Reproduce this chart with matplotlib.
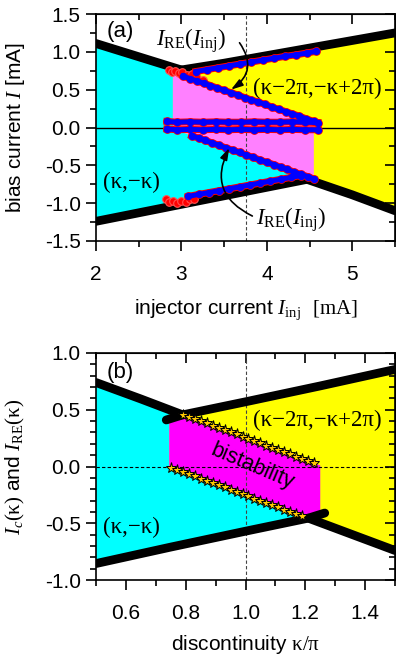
import numpy as np
import matplotlib
matplotlib.use('Agg')
import matplotlib.pyplot as plt
from matplotlib.ticker import MultipleLocator, FormatStrFormatter

plt.rcParams['font.family'] = ['Liberation Sans', 'DejaVu Sans']
plt.rcParams['mathtext.fontset'] = 'custom'
plt.rcParams['mathtext.rm'] = 'Liberation Serif'
plt.rcParams['mathtext.it'] = 'Liberation Serif:italic'
plt.rcParams['axes.unicode_minus'] = False
SERIF = 'Liberation Serif'
FS = 15      # ticks and axis labels
FT = 16.5    # annotations

# ---------------- panel (a): I vs I_inj [mA] ----------------
# critical current bands
a_ul_x = [2.0, 2.5, 3.0]
a_ul_y = [1.11, 0.935, 0.76]
a_ur_x = [2.97, 3.5, 4.0, 4.5, 5.0, 5.5]
a_ur_y = [0.755, 0.85, 0.95, 1.05, 1.15, 1.25]
a_ll_x = [2.0, 3.0, 4.0, 4.47]
a_ll_y = [-1.24, -1.015, -0.79, -0.685]
a_lr_x = [4.47, 5.0, 5.5]
a_lr_y = [-0.685, -0.89, -1.10]

# return current branches (edges of bistable region)
a_top_x = [2.90, 2.94, 3.02, 3.10, 3.18, 3.26, 3.34, 3.42, 3.50, 3.58, 3.66,
           3.74, 3.82, 3.90, 3.98, 4.06, 4.14, 4.22, 4.30, 4.38, 4.46, 4.55]
a_top_y = [0.725, 0.71, 0.68, 0.645, 0.615, 0.585, 0.555, 0.52, 0.49, 0.46, 0.43,
           0.395, 0.365, 0.335, 0.305, 0.27, 0.24, 0.21, 0.18, 0.15, 0.115, 0.08]
a_bot_x = [2.90, 2.96, 3.04, 3.12, 3.20, 3.28, 3.36, 3.44, 3.52, 3.60, 3.68,
           3.76, 3.84, 3.92, 4.00, 4.08, 4.16, 4.24, 4.32, 4.40, 4.48, 4.55]
a_bot_y = [-0.02, -0.045, -0.075, -0.11, -0.14, -0.17, -0.205, -0.235, -0.27, -0.30, -0.33,
           -0.365, -0.395, -0.43, -0.46, -0.49, -0.525, -0.555, -0.59, -0.62, -0.65, -0.68]
# zero-voltage rows near I = 0
a_row_x = [2.83, 2.95, 3.10, 3.25, 3.40, 3.55, 3.70, 3.85, 4.00, 4.15, 4.30, 4.45, 4.60]
a_row_hi = [0.08, 0.07, 0.075, 0.07, 0.075, 0.07, 0.07, 0.075, 0.07, 0.07, 0.075, 0.07, 0.065]
a_row_lo = [-0.02, -0.03, -0.025, -0.03, -0.025, -0.03, -0.025, -0.03, -0.025, -0.03, -0.025, -0.03, -0.03]
# measured points along critical current edges
a_up_x = [3.17, 3.30, 3.43, 3.56, 3.69, 3.82, 3.95, 4.08, 4.21, 4.34, 4.47, 4.57]
a_up_y = [0.74, 0.765, 0.79, 0.815, 0.84, 0.865, 0.89, 0.915, 0.94, 0.96, 0.985, 1.005]
a_dn_x = [3.08, 3.20, 3.32, 3.44, 3.56, 3.68, 3.80, 3.92, 4.04, 4.16, 4.28, 4.40]
a_dn_y = [-0.91, -0.885, -0.86, -0.835, -0.81, -0.785, -0.76, -0.735, -0.71, -0.685, -0.66, -0.635]
# red clusters where switching starts
a_red1_x = [2.86, 2.89, 2.93, 2.97, 3.01, 3.06, 3.12, 3.18, 3.25]
a_red1_y = [0.76, 0.73, 0.75, 0.72, 0.74, 0.70, 0.71, 0.66, 0.63]
a_red2_x = [2.82, 2.86, 2.90, 2.95, 3.00, 3.05, 3.10, 3.15]
a_red2_y = [-0.95, -0.99, -0.97, -1.00, -0.97, -0.98, -0.95, -0.94]
a_sw_lo, a_sw_hi = 2.90, 4.55
a_vline = 3.75

# ---------------- panel (b): I_c(kappa), I_RE(kappa) ----------------
b_ul_x = [0.5, 0.65, 0.79]
b_ul_y = [0.74, 0.595, 0.455]
b_ur_x = [0.735, 0.79, 1.0, 1.25, 1.5]
b_ur_y = [0.41, 0.455, 0.57, 0.71, 0.855]
b_ll_x = [0.5, 0.75, 1.0, 1.21, 1.265]
b_ll_y = [-0.855, -0.71, -0.57, -0.455, -0.41]
b_lr_x = [1.21, 1.5]
b_lr_y = [-0.455, -0.74]

b_st_top_x = [0.79, 0.81, 0.83, 0.85, 0.87, 0.89, 0.91, 0.93, 0.95, 0.97, 0.99, 1.01,
              1.03, 1.05, 1.07, 1.09, 1.11, 1.13, 1.15, 1.17, 1.19, 1.21, 1.23]
b_st_top_y = [0.456, 0.437, 0.417, 0.398, 0.379, 0.359, 0.340, 0.320, 0.301, 0.282, 0.262, 0.243,
              0.223, 0.204, 0.185, 0.165, 0.146, 0.126, 0.107, 0.088, 0.068, 0.049, 0.029]
b_st_bot_x = [0.75, 0.77, 0.79, 0.81, 0.83, 0.85, 0.87, 0.89, 0.91, 0.93, 0.95, 0.97,
              0.99, 1.01, 1.03, 1.05, 1.07, 1.09, 1.11, 1.13, 1.15, 1.17, 1.19]
b_st_bot_y = [-0.010, -0.029, -0.049, -0.068, -0.088, -0.107, -0.126, -0.146, -0.165, -0.185, -0.204, -0.223,
              -0.243, -0.262, -0.282, -0.301, -0.320, -0.340, -0.359, -0.379, -0.398, -0.417, -0.437]
# edges of the bistable region
b_re_top_x = [0.745, 0.79, 1.25]
b_re_top_y = [0.42, 0.456, 0.01]
b_re_bot_x = [0.745, 1.21]
b_re_bot_y = [-0.005, -0.447]
b_sw_lo, b_sw_hi = 0.745, 1.25

CYAN, YELLOW, PINK, MAGENTA = '#00FFFF', '#FFFF00', '#FF80FF', '#FF00FF'


def poly(*segs):
    xs = np.concatenate([np.asarray(s[0], float) for s in segs])
    ys = np.concatenate([np.asarray(s[1], float) for s in segs])
    return xs, ys


def band(ax, x, y):
    ax.plot(x, y, color='black', lw=6.3, solid_capstyle='round', zorder=3)


def style(ax, xmaj, xmin, ymaj, ymin, xfmt, yfmt):
    for s in ax.spines.values():
        s.set_linewidth(1.2)
    ax.xaxis.set_major_locator(MultipleLocator(xmaj))
    ax.xaxis.set_minor_locator(MultipleLocator(xmin))
    ax.yaxis.set_major_locator(MultipleLocator(ymaj))
    ax.yaxis.set_minor_locator(MultipleLocator(ymin))
    ax.xaxis.set_major_formatter(FormatStrFormatter(xfmt))
    ax.yaxis.set_major_formatter(FormatStrFormatter(yfmt))
    ax.tick_params(which='both', direction='out', width=1.2, labelsize=FS, top=False, right=False)
    ax.tick_params(which='major', length=7)
    ax.tick_params(which='minor', length=4.5)
    ax.tick_params(axis='x', which='both', pad=10)
    ax.tick_params(axis='y', which='both', pad=4)
    # mirror ticks pointing into the frame
    top = ax.secondary_xaxis('top')
    top.xaxis.set_major_locator(MultipleLocator(xmaj))
    top.xaxis.set_minor_locator(MultipleLocator(xmin))
    top.tick_params(which='both', direction='in', width=1.2, labeltop=False)
    top.tick_params(which='major', length=7)
    top.tick_params(which='minor', length=4.5)
    right = ax.secondary_yaxis('right')
    right.yaxis.set_major_locator(MultipleLocator(ymaj))
    right.yaxis.set_minor_locator(MultipleLocator(ymin))
    right.tick_params(which='both', direction='in', width=1.2, labelright=False)
    right.tick_params(which='major', length=7)
    right.tick_params(which='minor', length=4.5)


fig = plt.figure(figsize=(3.96, 6.6), dpi=100)
ax1 = fig.add_axes([96 / 396, 1 - 241 / 660, 299 / 396, 227 / 660])
ax2 = fig.add_axes([96 / 396, 1 - 580 / 660, 299 / 396, 227 / 660])

# ---- (a) ----
ax = ax1
ax.set_xlim(2, 5.5)
ax.set_ylim(-1.5, 1.5)
env = poly((a_ul_x, a_ul_y), (a_ur_x[1:], a_ur_y[1:]), (a_lr_x[::-1], a_lr_y[::-1]), (a_ll_x[-2::-1], a_ll_y[-2::-1]))
ax.fill(*env, color=YELLOW, lw=0, zorder=0)
ul_at = np.interp(a_sw_lo, a_ul_x, a_ul_y)
cy = poly(([a_ul_x[0], a_ul_x[1], a_sw_lo], [a_ul_y[0], a_ul_y[1], ul_at]), (a_bot_x, a_bot_y),
          (a_ll_x[::-1], a_ll_y[::-1]))
ax.fill(*cy, color=CYAN, lw=0, zorder=0.5)
pk = poly((a_top_x, a_top_y), (a_bot_x[::-1], a_bot_y[::-1]))
ax.fill(*pk, color=PINK, lw=0, zorder=0.6)
ax.axhline(0, color='black', lw=1.0, zorder=1)
ax.axvline(a_vline, color='#444444', lw=0.8, ls=(0, (3, 2)), zorder=1)
for x, y in [(a_ul_x, a_ul_y), (a_ur_x, a_ur_y), (a_ll_x, a_ll_y), (a_lr_x, a_lr_y)]:
    band(ax, x, y)
ax.plot(a_red1_x, a_red1_y, 'o', color='red', ms=5.5, mec='#ff5050', mew=0.8, zorder=4)
ax.plot(a_red2_x, a_red2_y, 'o', color='red', ms=5.5, mec='#ff5050', mew=0.8, zorder=4)
for x, y in [(a_top_x[2:], a_top_y[2:]), (a_bot_x[3:], a_bot_y[3:]), (a_row_x, a_row_hi),
             (a_row_x, a_row_lo), (a_up_x, a_up_y), (a_dn_x, a_dn_y)]:
    ax.plot(x, y, '-o', color='red', lw=5.0, ms=6.3, mew=0, zorder=4)
    ax.plot(x, y, '-o', color='blue', lw=3.6, ms=5.3, mew=0, zorder=5)

ax.text(2.12, 1.27, '(a)', fontsize=16, va='center')
ax.text(2.70, 1.15, r'$I_{\mathrm{RE}}(I_{\mathrm{inj}})$', fontsize=FT, va='center')
ax.text(3.87, -1.22, r'$I_{\mathrm{RE}}(I_{\mathrm{inj}})$', fontsize=FT, va='center')
ax.text(4.59, 0.51, '(κ−2π,−κ+2π)', family=SERIF, fontsize=FT, ha='center', va='center')
ax.text(2.41, -0.73, '(κ,−κ)', family=SERIF, fontsize=FT, ha='center', va='center')
arr = dict(arrowstyle='-|>,head_length=0.7,head_width=0.22', color='black', lw=1.2,
           shrinkA=0, shrinkB=0)
ax.annotate('', xy=(3.58, 0.50), xytext=(3.68, 1.12),
            arrowprops=dict(arr, connectionstyle='arc3,rad=-0.5'), zorder=6)
ax.annotate('', xy=(3.56, -0.27), xytext=(3.83, -1.17),
            arrowprops=dict(arr, connectionstyle='arc3,rad=-0.5'), zorder=6)
style(ax, 1, 0.5, 0.5, 0.25, '%d', '%.1f')
ax.set_xlabel(r'injector current $I_{\mathrm{inj}}$  $\mathrm{[mA]}$', fontsize=FS)
ax.set_ylabel(r'bias current $I$ [mA]', fontsize=FS)
ax.xaxis.set_label_coords(0.5, -0.25)
ax.yaxis.set_label_coords(-0.232, 0.5)

# ---- (b) ----
ax = ax2
ax.set_xlim(0.5, 1.5)
ax.set_ylim(-1, 1)
env = poly((b_ul_x, b_ul_y), (b_ur_x[2:], b_ur_y[2:]), (b_lr_x[::-1], b_lr_y[::-1]), (b_ll_x[-3::-1], b_ll_y[-3::-1]))
ax.fill(*env, color=YELLOW, lw=0, zorder=0)
ul_at = np.interp(b_sw_lo, b_ul_x, b_ul_y)
ll_keep = [i for i, v in enumerate(b_ll_x) if v <= b_re_bot_x[-1]]
cy = poly(([b_ul_x[0], b_ul_x[1], b_sw_lo], [b_ul_y[0], b_ul_y[1], ul_at]), (b_re_bot_x, b_re_bot_y),
          ([b_ll_x[i] for i in ll_keep[::-1]], [b_ll_y[i] for i in ll_keep[::-1]]))
ax.fill(*cy, color=CYAN, lw=0, zorder=0.5)
ll_at = np.interp(b_sw_hi, b_ll_x, b_ll_y)
mg = poly((b_re_top_x, b_re_top_y), ([b_sw_hi], [ll_at]), (b_re_bot_x[::-1], b_re_bot_y[::-1]))
ax.fill(*mg, color=MAGENTA, lw=0, zorder=0.6)
ax.axhline(0, color='black', lw=0.8, ls=(0, (3, 2)), zorder=1)
ax.axvline(1.0, color='#444444', lw=0.8, ls=(0, (3, 2)), zorder=1)
for x, y in [(b_ul_x, b_ul_y), (b_ur_x, b_ur_y), (b_ll_x, b_ll_y), (b_lr_x, b_lr_y)]:
    band(ax, x, y)
for x, y in [(b_st_top_x, b_st_top_y), (b_st_bot_x, b_st_bot_y)]:
    ax.plot(x, y, '*', color='#FFC800', ms=8, mec='black', mew=0.7, zorder=5)

ax.text(0.536, 0.83, '(b)', fontsize=16, va='center')
ax.text(1.24, 0.41, '(κ−2π,−κ+2π)', family=SERIF, fontsize=FT, ha='center', va='center')
ax.text(0.62, -0.54, '(κ,−κ)', family=SERIF, fontsize=FT, ha='center', va='center')
ax.text(1.022, 0.0, 'bistability', fontsize=15.5, rotation=-23, ha='center', va='center',
        rotation_mode='anchor', zorder=6)
style(ax, 0.2, 0.1, 0.5, 0.1, '%.1f', '%.1f')
ax.set_xlabel(r'discontinuity $\mathrm{κ/π}$', fontsize=FS)
ax.set_ylabel(r'$I_c(\mathrm{κ})$ and $I_{\mathrm{RE}}(\mathrm{κ})$', fontsize=FS)
ax.xaxis.set_label_coords(0.5, -0.235)
ax.yaxis.set_label_coords(-0.232, 0.5)

fig.savefig('out.png', dpi=100)
